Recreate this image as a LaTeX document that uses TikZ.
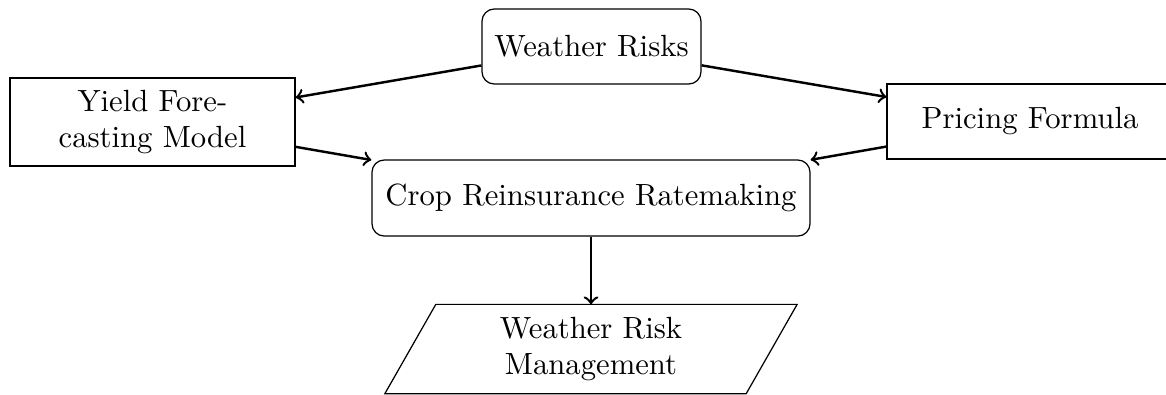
\documentclass[tikz,border=0pt]{standalone}
\begin{document}
\begin{tikzpicture}[x=0.326pt,y=-0.326pt,
  rbox/.style={draw, rectangle, rounded corners=4pt, inner sep=0pt, align=center},
  sbox/.style={draw, rectangle, inner sep=0pt, align=center},
  pbox/.style={rectangle, inner sep=0pt, align=center},
  conn/.style={->, thick}]
\useasboundingbox (0,0) rectangle (1166,394);
\node[rbox, minimum width=71.4pt, minimum height=24.45pt] (wr) at (591.5,46.5) {Weather Risks};
\node[sbox, minimum width=92.9pt, minimum height=28.7pt] (yf) at (152.5,122) {Yield Fore-\\casting Model};
\node[sbox, minimum width=93.2pt, minimum height=24.45pt] (pf) at (1030,121.5) {Pricing Formula};
\node[rbox, minimum width=142.8pt, minimum height=24.8pt] (cr) at (591,198) {Crop Reinsurance Ratemaking};
\node[pbox, minimum width=117.4pt, minimum height=28.7pt] (wm) at (591,349) {Weather Risk\\Management};
\draw ([xshift=8.3pt]wm.north west) -- ([xshift=8.3pt]wm.north east) -- ([xshift=-8.3pt]wm.south east) -- ([xshift=-8.3pt]wm.south west) -- cycle;
\draw[conn] (wr) -- (yf);
\draw[conn] (wr) -- (pf);
\draw[conn] (yf) -- (cr);
\draw[conn] (pf) -- (cr);
\draw[conn] (cr) -- (wm);
\end{tikzpicture}
\end{document}
